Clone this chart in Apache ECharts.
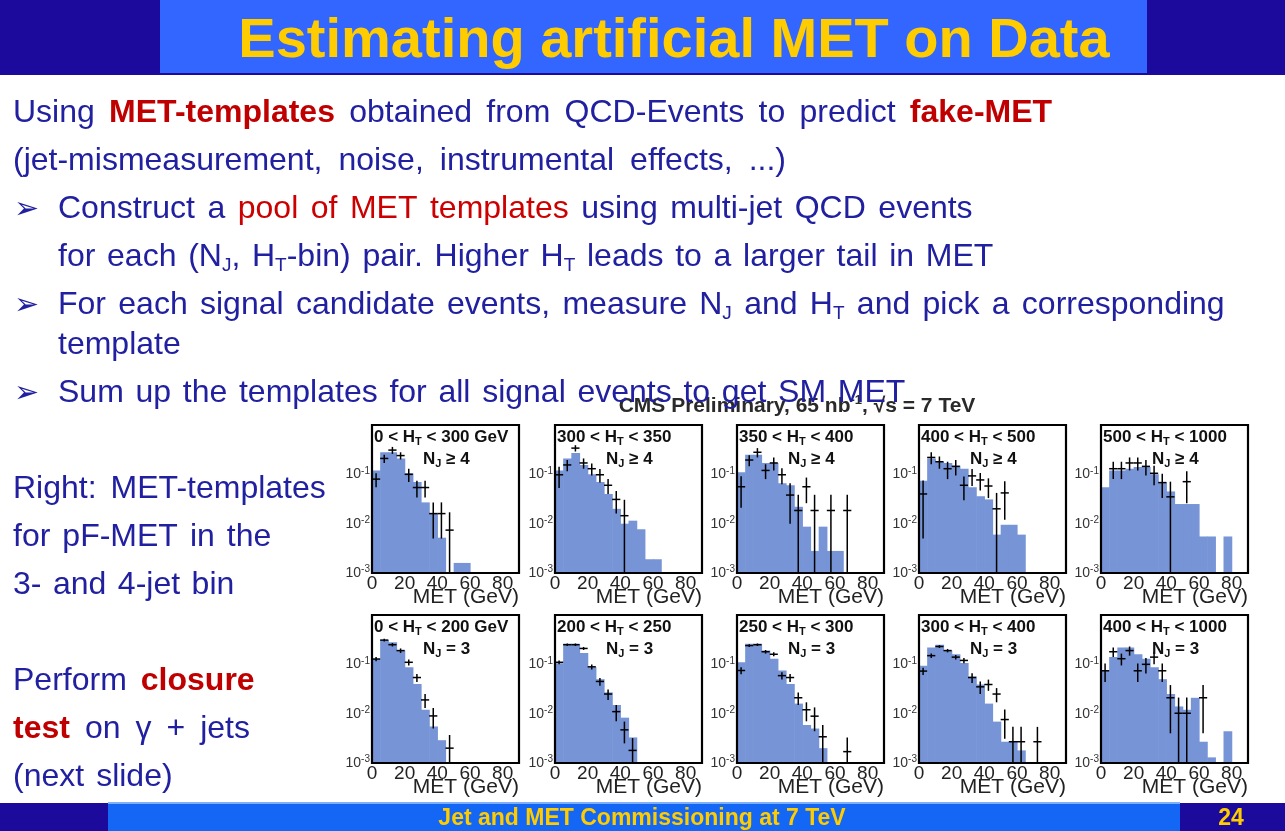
<!DOCTYPE html>
<html><head><meta charset="utf-8">
<script src="https://cdn.jsdelivr.net/npm/echarts@6.0.0/dist/echarts.min.js"></script>
<style>html,body{margin:0;padding:0;background:#fff}#c{width:1285px;height:831px}</style>
</head><body><div id="c"></div><script>
// ---------------- data ----------------
const xTicks = [0, 20, 40, 60, 80];
const binWidth = 5;
const htLabels = ['0 < H_T < 300 GeV', '300 < H_T < 350', '350 < H_T < 400', '400 < H_T < 500', '500 < H_T < 1000',
                  '0 < H_T < 200 GeV', '200 < H_T < 250', '250 < H_T < 300', '300 < H_T < 400', '400 < H_T < 1000'];
const njLabels = ['N_J ≥ 4', 'N_J ≥ 4', 'N_J ≥ 4', 'N_J ≥ 4', 'N_J ≥ 4',
                  'N_J = 3', 'N_J = 3', 'N_J = 3', 'N_J = 3', 'N_J = 3'];
const xAxisTitle = 'MET (GeV)';
// template histograms: normalised contents of 5 GeV bins starting at MET = 0
const hist1 = [0.12, 0.28, 0.28, 0.21, 0.105, 0.07, 0.027, 0.016, 0.0052, 0, 0.0016, 0.0016];
const hist2 = [0.12, 0.21, 0.27, 0.155, 0.1, 0.07, 0.04, 0.02, 0.01, 0.0115, 0.0077, 0.0019, 0.0019];
const hist3 = [0.11, 0.25, 0.25, 0.17, 0.17, 0.066, 0.06, 0.022, 0.0087, 0.0028, 0.0087, 0.0028, 0.0028];
const hist4 = [0.074, 0.21, 0.18, 0.17, 0.15, 0.13, 0.055, 0.036, 0.031, 0.006, 0.0095, 0.0095, 0.006];
const hist5 = [0.055, 0.12, 0.12, 0.13, 0.14, 0.14, 0.1, 0.07, 0.045, 0.025, 0.025, 0.025, 0.0055, 0.0055, 0, 0.0055];
const hist6 = [0.13, 0.31, 0.28, 0.19, 0.087, 0.04, 0.012, 0.0055, 0.0029];
const hist7 = [0.105, 0.26, 0.26, 0.17, 0.087, 0.05, 0.027, 0.015, 0.0083, 0.0033];
const hist8 = [0.11, 0.26, 0.26, 0.19, 0.13, 0.075, 0.04, 0.016, 0.0059, 0.005, 0.002];
const hist9 = [0.094, 0.22, 0.25, 0.19, 0.16, 0.107, 0.057, 0.039, 0.016, 0.0069, 0.0027, 0.0027, 0.0018];
const hist10 = [0.075, 0.14, 0.22, 0.22, 0.16, 0.13, 0.087, 0.05, 0.025, 0.014, 0.012, 0.021, 0.0027, 0.0013, 0, 0.0044];
// data points: [MET bin centre, value, error]
const pts1 = [[2.5,0.08,0.025],[7.5,0.21,0.04],[12.5,0.31,0.05],[17.5,0.24,0.04],[22.5,0.10,0.03],[27.5,0.054,0.02],[32.5,0.054,0.02],[37.5,0.016,0.011],[42.5,0.016,0.011],[47.5,0.0074,0.0096]];
const pts2 = [[2.5,0.098,0.045],[7.5,0.155,0.04],[12.5,0.34,0.05],[17.5,0.17,0.04],[22.5,0.13,0.035],[27.5,0.098,0.03],[32.5,0.06,0.02],[37.5,0.031,0.015],[42.5,0.0145,0.016]];
const pts3 = [[2.5,0.056,0.035],[7.5,0.195,0.05],[12.5,0.28,0.06],[17.5,0.12,0.04],[22.5,0.17,0.05],[27.5,0.098,0.035],[32.5,0.038,0.028],[37.5,0.0185,0.02],[42.5,0.056,0.03],[47.5,0.0185,0.02],[57.5,0.0185,0.02],[67.5,0.0185,0.02]];
const pts4 = [[2.5,0.04,0.035],[7.5,0.22,0.06],[12.5,0.18,0.05],[17.5,0.13,0.05],[22.5,0.145,0.05],[27.5,0.06,0.03],[32.5,0.093,0.035],[37.5,0.077,0.03],[42.5,0.058,0.025],[47.5,0.02,0.022],[52.5,0.042,0.03]];
const pts5 = [[7.5,0.13,0.05],[12.5,0.13,0.05],[17.5,0.17,0.05],[22.5,0.17,0.05],[27.5,0.145,0.05],[32.5,0.105,0.045],[37.5,0.068,0.035],[42.5,0.035,0.036],[52.5,0.071,0.045]];
const pts6 = [[2.5,0.128,0.012],[7.5,0.31,0.02],[12.5,0.25,0.02],[17.5,0.19,0.02],[22.5,0.11,0.015],[27.5,0.054,0.01],[32.5,0.019,0.006],[37.5,0.009,0.004],[47.5,0.002,0.0017]];
const pts7 = [[2.5,0.11,0.01],[7.5,0.25,0.015],[12.5,0.25,0.015],[17.5,0.21,0.015],[22.5,0.089,0.01],[27.5,0.045,0.008],[32.5,0.025,0.006],[37.5,0.011,0.004],[42.5,0.0047,0.0022],[47.5,0.0018,0.0014]];
const pts8 = [[2.5,0.075,0.012],[7.5,0.24,0.015],[12.5,0.25,0.015],[17.5,0.18,0.015],[22.5,0.16,0.015],[27.5,0.059,0.01],[32.5,0.054,0.01],[37.5,0.021,0.006],[42.5,0.012,0.005],[47.5,0.0089,0.0045],[52.5,0.0034,0.0025],[67.5,0.0017,0.0016]];
const pts9 = [[2.5,0.073,0.012],[7.5,0.15,0.015],[12.5,0.23,0.015],[17.5,0.19,0.015],[22.5,0.14,0.015],[27.5,0.12,0.015],[32.5,0.054,0.012],[37.5,0.035,0.01],[42.5,0.039,0.01],[47.5,0.025,0.008],[52.5,0.0076,0.0045],[57.5,0.0027,0.0027],[62.5,0.0027,0.0027],[72.5,0.0027,0.0027]];
const pts10 = [[2.5,0.074,0.03],[7.5,0.18,0.04],[12.5,0.13,0.035],[17.5,0.19,0.04],[22.5,0.074,0.03],[27.5,0.1,0.035],[32.5,0.14,0.04],[37.5,0.074,0.03],[42.5,0.021,0.017],[47.5,0.0102,0.011],[52.5,0.0102,0.011],[62.5,0.021,0.017]];

const hists = [hist1, hist2, hist3, hist4, hist5, hist6, hist7, hist8, hist9, hist10];
const points = [pts1, pts2, pts3, pts4, pts5, pts6, pts7, pts8, pts9, pts10];

// ---------------- layout & style ----------------
const FONT = '"Liberation Sans", Arial, Helvetica, sans-serif';
const BLUE = '#2020a0';
const RED = '#c00000';
const BAR = '#7694d6';
const Y_MIN = 0.001, Y_MAX = 1, X_MAX = 90;
const colLeft = [372, 555, 737, 919, 1101];
const rowTop = [425, 615];
const PW = 147, PH = 148;

const chart = echarts.init(document.getElementById('c'), null, {renderer: 'canvas'});

const grids = [], xAxes = [], yAxes = [], series = [], graphics = [];

function subFmt(s, style, sub) {
  return s.split(/_(\w)/).map((part, i) => i % 2 ? '{' + sub + '|' + part + '}' : (part ? '{' + style + '|' + part + '}' : '')).join('');
}

for (let i = 0; i < 10; i++) {
  const row = i < 5 ? 0 : 1, col = i % 5;
  const left = colLeft[col], top = rowTop[row];
  grids.push({left: left, top: top, width: PW, height: PH, containLabel: false, outerBoundsMode: 'none'});
  xAxes.push({
    type: 'value', gridIndex: i, min: 0, max: X_MAX, interval: 20,
    axisLine: {show: false}, axisTick: {show: false}, splitLine: {show: false},
    axisLabel: {fontSize: 19, color: '#222', fontFamily: FONT, margin: 1, hideOverlap: false,
      formatter: v => xTicks.indexOf(v) >= 0 ? String(v) : ''}
  });
  yAxes.push({
    type: 'log', logBase: 10, gridIndex: i, min: Y_MIN, max: Y_MAX,
    axisLine: {show: false}, axisTick: {show: false}, splitLine: {show: false},
    axisLabel: {margin: 2, fontFamily: FONT, hideOverlap: false,
      formatter: v => v >= 0.999 ? '' : '{b|10}{e|' + Math.round(Math.log10(v)) + '}',
      rich: {b: {fontSize: 14, color: '#333', fontFamily: FONT, lineHeight: 17, verticalAlign: 'middle'},
             e: {fontSize: 10, color: '#333', fontFamily: FONT, lineHeight: 10, verticalAlign: 'top'}}}
  });
  const hdata = [];
  hists[i].forEach((v, k) => { if (v > 0) hdata.push([k * binWidth, (k + 1) * binWidth, v]); });
  series.push({
    type: 'custom', xAxisIndex: i, yAxisIndex: i, data: hdata, z: 2, silent: true,
    renderItem: (params, api) => {
      const p0 = api.coord([api.value(0), api.value(2)]);
      const p1 = api.coord([api.value(1), Y_MIN]);
      return {type: 'rect', shape: {x: p0[0], y: p0[1], width: p1[0] - p0[0] + 0.6, height: p1[1] - p0[1]},
              style: {fill: BAR}};
    }
  });
  series.push({
    type: 'custom', xAxisIndex: i, yAxisIndex: i, data: points[i], z: 4, silent: true,
    renderItem: (params, api) => {
      const x = api.value(0), y = api.value(1), s = api.value(2);
      const top = Math.min(y + s, Y_MAX), bot = Math.max(y - s, Y_MIN);
      const a = api.coord([x, top]), b = api.coord([x, bot]);
      const l = api.coord([x - binWidth / 2, y]), r = api.coord([x + binWidth / 2, y]);
      const st = {stroke: '#000', lineWidth: 1.5};
      return {type: 'group', children: [
        {type: 'line', shape: {x1: a[0], y1: a[1], x2: b[0], y2: b[1]}, style: st},
        {type: 'line', shape: {x1: l[0], y1: l[1], x2: r[0], y2: r[1]}, style: st}
      ]};
    }
  });
  series.push({
    type: 'custom', xAxisIndex: i, yAxisIndex: i, data: [[0, Y_MIN]], z: 6, silent: true,
    renderItem: (params) => {
      const c = params.coordSys;
      return {type: 'rect', shape: {x: c.x, y: c.y, width: c.width, height: c.height},
              style: {fill: 'none', stroke: '#000', lineWidth: 2.2}};
    }
  });
  const prich = {t: {fontSize: 17, fontWeight: 'bold', fontFamily: FONT, fill: '#111', lineHeight: 20, verticalAlign: 'middle'},
                 s: {fontSize: 11, fontWeight: 'bold', fontFamily: FONT, fill: '#111', lineHeight: 12, verticalAlign: 'bottom'}};
  graphics.push({type: 'text', x: left + 2, y: top + 12, z: 50,
    style: {text: subFmt(htLabels[i], 't', 's'), rich: prich, verticalAlign: 'middle', align: 'left'}});
  graphics.push({type: 'text', x: left + 51, y: top + 34, z: 50,
    style: {text: subFmt(njLabels[i], 't', 's'), rich: prich, verticalAlign: 'middle', align: 'left'}});
  graphics.push({type: 'text', x: left + PW, y: top + PH + 24, z: 50,
    style: {text: xAxisTitle, fill: '#222', font: '21px ' + FONT, verticalAlign: 'middle', align: 'right'}});
}

// ---------------- slide frame ----------------
const DARK = '#1b0a9b';
graphics.push({type: 'rect', shape: {x: 0, y: 0, width: 1285, height: 75}, style: {fill: DARK}, z: 0});
graphics.push({type: 'rect', shape: {x: 160, y: 0, width: 987, height: 73}, style: {fill: '#3366ff'}, z: 1});
graphics.push({type: 'text', x: 674, y: 42, z: 2,
  style: {text: 'Estimating artificial MET on Data', fill: '#ffcc00', font: 'bold 56px ' + FONT, align: 'center', verticalAlign: 'middle'}});

graphics.push({type: 'rect', shape: {x: 0, y: 803, width: 1285, height: 28}, style: {fill: DARK}, z: 0});
graphics.push({type: 'rect', shape: {x: 108, y: 803, width: 1072, height: 28}, style: {fill: '#1466f5'}, z: 1});
graphics.push({type: 'rect', shape: {x: 108, y: 802, width: 1072, height: 2}, style: {fill: '#7fb0ff'}, z: 1});
const footStyle = {fill: '#ffcc00', font: 'bold 23px ' + FONT, align: 'center', verticalAlign: 'middle',
                   textShadowColor: '#6b4a00', textShadowOffsetX: 1, textShadowOffsetY: 1, textShadowBlur: 0};
graphics.push({type: 'text', x: 642, y: 819, z: 2, style: Object.assign({text: 'Jet and MET Commissioning at 7 TeV'}, footStyle)});
graphics.push({type: 'text', x: 1231, y: 819, z: 2, style: Object.assign({text: '24'}, footStyle)});

// CMS header of the figure
graphics.push({type: 'text', x: 797, y: 406, z: 1,
  style: {text: '{b|CMS Preliminary, 65 nb}{e|-1}{b|, √s = 7 TeV}', align: 'center', verticalAlign: 'middle',
    rich: {b: {fontSize: 21, fontWeight: 'bold', fontFamily: FONT, fill: '#2a2a2a', lineHeight: 24, verticalAlign: 'middle'},
           e: {fontSize: 13, fontWeight: 'bold', fontFamily: FONT, fill: '#2a2a2a', lineHeight: 13, verticalAlign: 'top'}}}});

// body text: segments [style, text]; spaces get a wider, fixed width (justified slide text)
const bodyLines = [
  [13, 113, 14.3, [['n', 'Using '], ['r', 'MET-templates'], ['n', ' obtained from QCD-Events to predict '], ['r', 'fake-MET']]],
  [13, 161, 16, [['n', '(jet-mismeasurement, noise, instrumental effects, ...)']]],
  [58, 209, 12.5, [['n', 'Construct a '], ['q', 'pool of MET templates'], ['n', ' using multi-jet QCD events']]],
  [58, 257, 11.7, [['n', 'for each (N'], ['s', 'J'], ['n', ', H'], ['s', 'T'], ['n', '-bin) pair. Higher H'], ['s', 'T'], ['n', ' leads to a larger tail in MET']]],
  [58, 305, 12.3, [['n', 'For each signal candidate events, measure N'], ['s', 'J'], ['n', ' and H'], ['s', 'T'], ['n', ' and pick a corresponding']]],
  [58, 345, 12, [['n', 'template']]],
  [58, 393, 11.7, [['n', 'Sum up the templates for all signal events to get SM MET']]],
  [13, 489, 14, [['n', 'Right: MET-templates']]],
  [13, 537, 12, [['n', 'for pF-MET in the']]],
  [13, 585, 11.5, [['n', '3- and 4-jet bin']]],
  [13, 681, 14, [['n', 'Perform '], ['r', 'closure']]],
  [13, 729, 15, [['r', 'test'], ['n', ' on γ + jets']]],
  [13, 777, 12, [['n', '(next slide)']]]
];
function bodyRich(space) {
  const base = {fontSize: 32, fontFamily: FONT, lineHeight: 36, verticalAlign: 'middle'};
  return {
    n: Object.assign({fill: BLUE}, base),
    r: Object.assign({fill: RED, fontWeight: 'bold'}, base),
    q: Object.assign({fill: '#cc0000'}, base),
    w: Object.assign({fill: BLUE, width: space}, base),
    s: {fontSize: 19, fontFamily: FONT, fill: BLUE, lineHeight: 18, verticalAlign: 'bottom'}
  };
}
bodyLines.forEach(l => {
  const txt = l[3].map(seg => seg[1].split(' ').map(w => w ? '{' + seg[0] + '|' + w + '}' : '').join('{w| }')).join('');
  graphics.push({type: 'text', x: l[0], y: l[1], z: 3,
    style: {text: txt, rich: bodyRich(l[2]), align: 'left', verticalAlign: 'middle'}});
});
[209, 305, 393].forEach(y => graphics.push({type: 'text', x: 14, y: y + 1, z: 3,
  style: {text: '➢', fill: BLUE, font: '30px "DejaVu Sans", sans-serif', align: 'left', verticalAlign: 'middle'}}));

chart.setOption({
  animation: false,
  backgroundColor: '#ffffff',
  grid: grids, xAxis: xAxes, yAxis: yAxes, series: series,
  graphic: {elements: graphics}
});
</script></body></html>
